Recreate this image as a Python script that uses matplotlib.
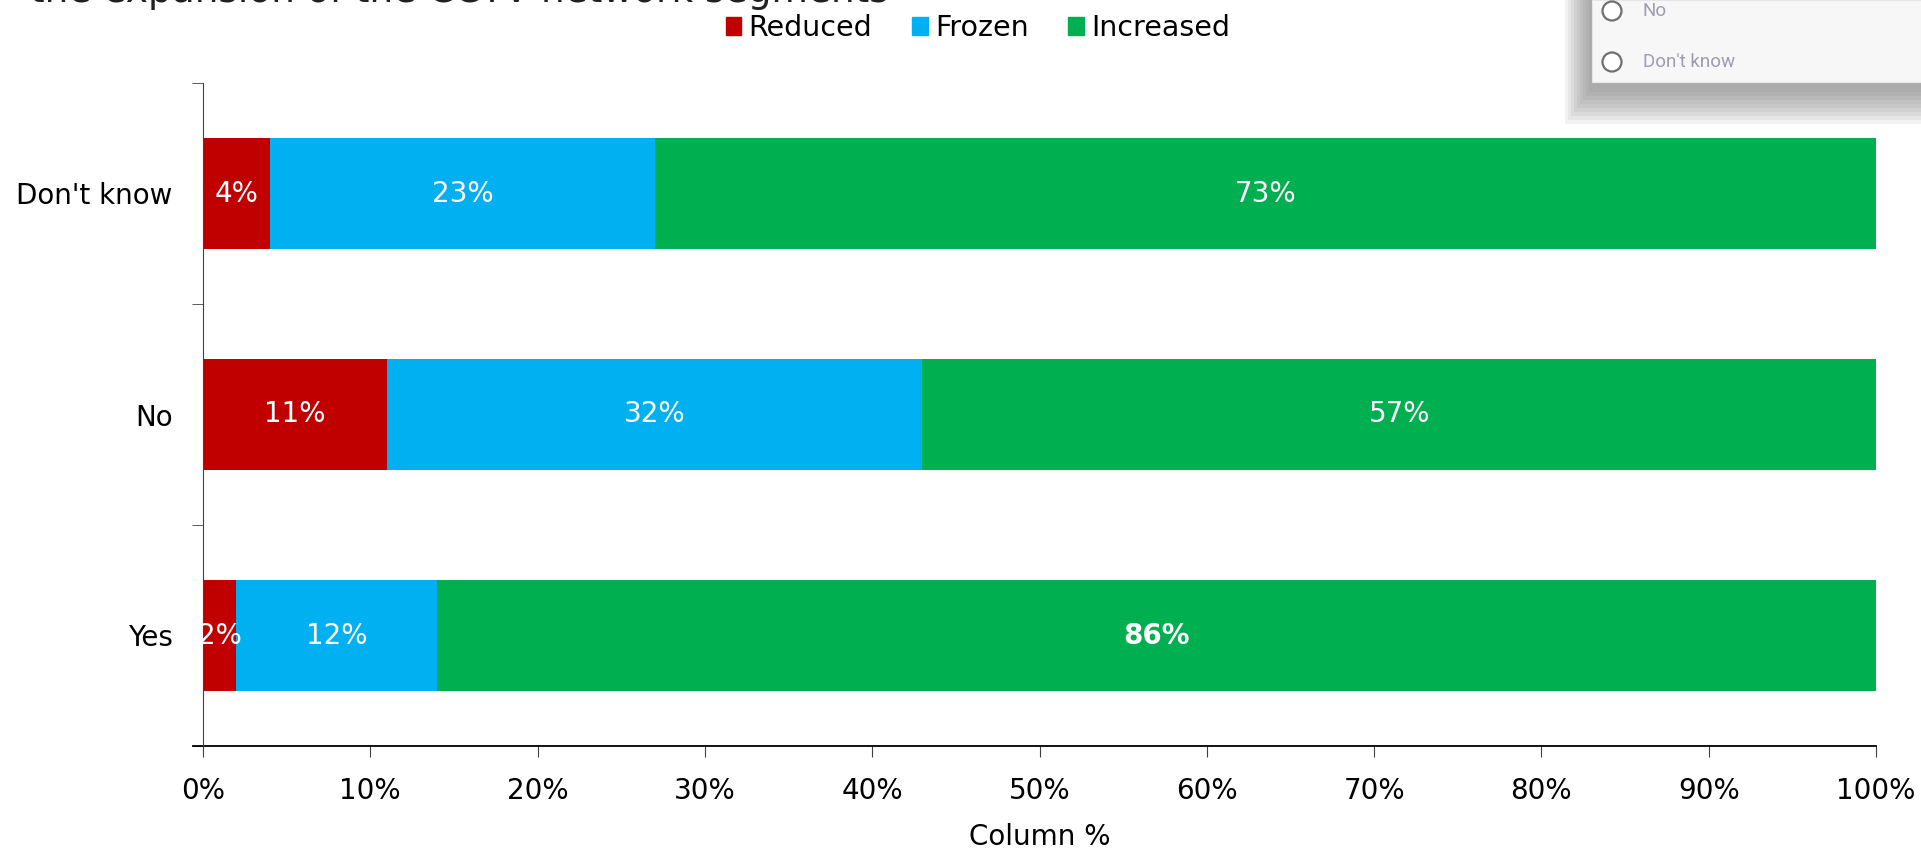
import numpy as np
import matplotlib.pyplot as plt
from matplotlib.patches import Rectangle, Ellipse
from matplotlib.lines import Line2D

# survey answers, bottom to top
categories = ["Yes", "No", "Don't know"]
reduced = [2, 11, 4]
frozen = [12, 32, 23]
increased = [86, 57, 73]
series_names = ["Reduced", "Frozen", "Increased"]
colors = ["#C00000", "#00B0F0", "#00B050"]
xticks = list(range(0, 101, 10))

W, H = 1921, 849
fig = plt.figure(figsize=(W / 100, H / 100), dpi=100)
plt.rcParams['font.family'] = ['DejaVu Sans']
FS = 20

ax = fig.add_axes([203 / W, 1 - 746 / H, (1876 - 203) / W, (746 - 83) / H])

y = np.arange(len(categories))
left = np.zeros(len(categories))
for vals, name, col in zip([reduced, frozen, increased], series_names, colors):
    vals = np.array(vals, dtype=float)
    ax.barh(y, vals, left=left, height=0.5, color=col, label=name)
    for i, (v, l) in enumerate(zip(vals, left)):
        bold = (name == "Increased" and categories[i] == "Yes")
        ax.text(l + v / 2, y[i], f"{int(v)}%", color="white", ha="center", va="center",
                fontsize=FS, fontweight="bold" if bold else "normal")
    left += vals

ax.set_xlim(0, 100)
ax.set_ylim(-0.5, len(categories) - 0.5)
ax.set_xticks(xticks)
ax.set_xticklabels([f"{t}%" for t in xticks], fontsize=FS)
ax.set_yticks(y)
ax.set_yticklabels(categories, fontsize=FS)
ax.tick_params(axis="y", length=0, pad=22)
ax.set_yticks(np.arange(-0.5, len(categories), 1.0), minor=True)
ax.tick_params(axis="y", which="minor", length=8, color="#404040", direction="out")
ax.tick_params(axis="x", length=8, color="#404040", pad=14)
ax.set_xlabel("Column %", fontsize=FS, labelpad=13)

for s in ["top", "right"]:
    ax.spines[s].set_visible(False)
ax.spines["left"].set_color("#404040")
ax.spines["bottom"].set_visible(False)
# x axis line runs a little past the y axis
ax.add_line(Line2D([-0.006, 1.0], [0, 0], transform=ax.transAxes, color="black",
                   lw=1.3, clip_on=False))

handles = [Rectangle((0, 0), 1, 1, color=c) for c in colors]
fig.legend(handles, series_names, loc="center", bbox_to_anchor=(978 / W, 1 - 28 / H),
           ncol=3, frameon=False, fontsize=20.5, handlelength=0.55, handleheight=0.55,
           handletextpad=0.25, columnspacing=1.4, borderaxespad=0)

# heading line cut by the top edge
fig.text(30 / W, 1 - 2 / H, "the expansion of the CCTV network segments",
         fontsize=27, va="baseline", ha="left", color="#202020")

# answer panel in the top right corner, with its shadow
for k in range(9):
    fig.patches.append(Rectangle(((1565 + 3 * k) / W, 1 - (124 - 4 * k) / H),
                                 (W - 1565 - 3 * k) / W, (124 - 4 * k) / H,
                                 transform=fig.transFigure, facecolor="#707070",
                                 alpha=0.09, edgecolor="none"))
fig.patches.append(Rectangle((1592 / W, 1 - 82 / H), (W - 1592) / W, 82 / H,
                             transform=fig.transFigure, facecolor="#f7f7f7",
                             edgecolor="#e6e6e6", lw=0.8))
for yy, txt in [(11, "No"), (62, "Don't know")]:
    fig.patches.append(Ellipse((1612 / W, 1 - yy / H), 19 / W, 19 / H,
                               transform=fig.transFigure, facecolor="white",
                               edgecolor="#707070", lw=1.6))
    fig.text(1643 / W, 1 - yy / H, txt, fontsize=13.5, family="Roboto",
             color="#a09cb0", va="center", ha="left")

fig.savefig("out.png", dpi=100)
